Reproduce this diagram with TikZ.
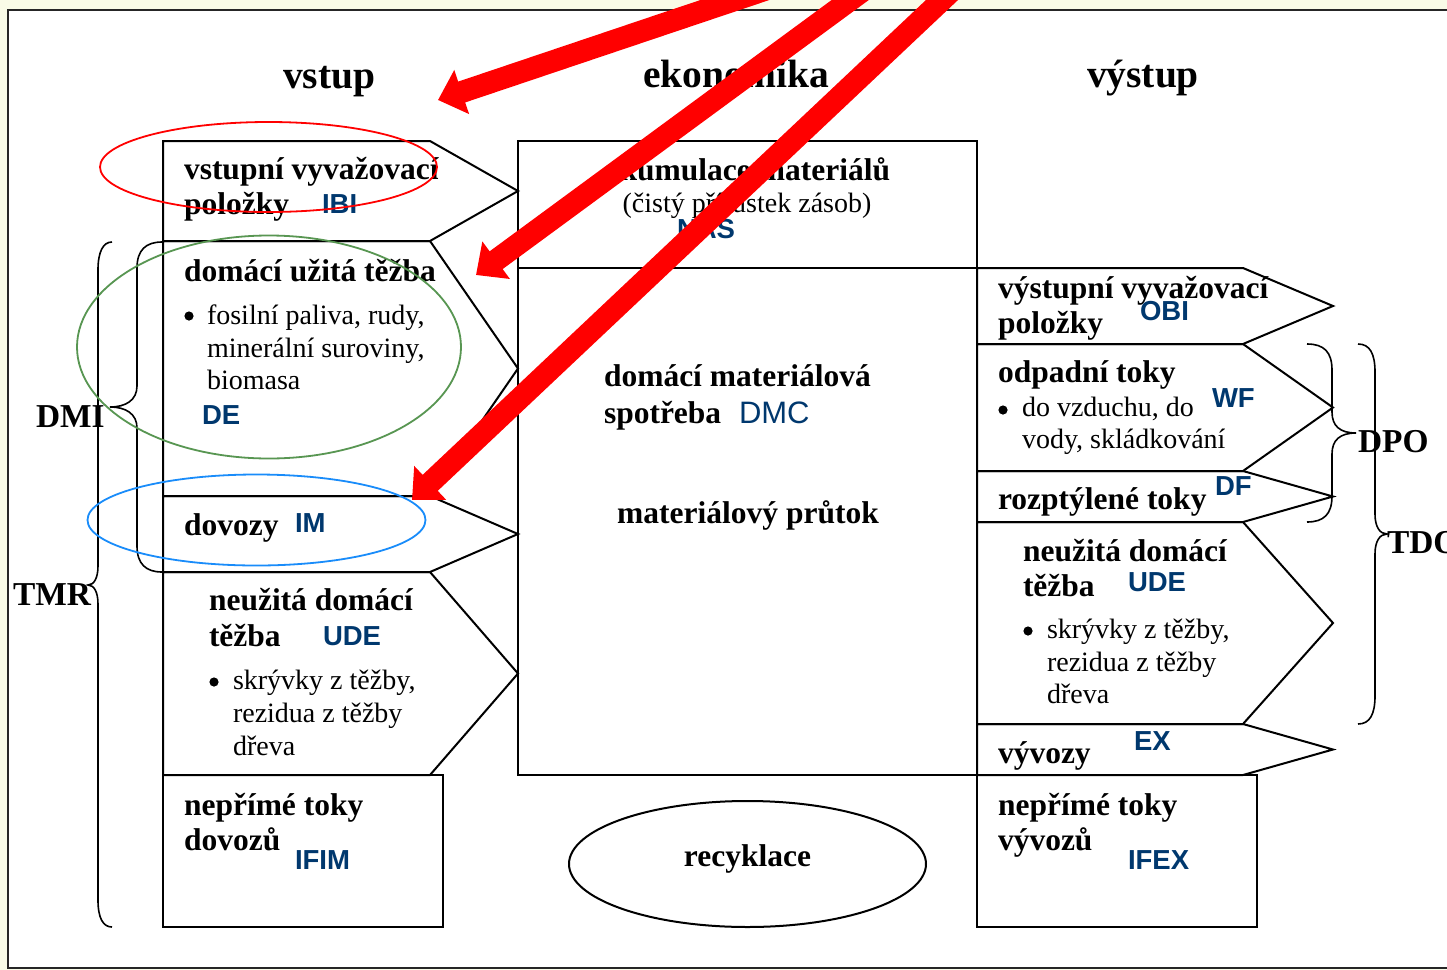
\documentclass[tikz,border=0pt]{standalone}
\usepackage{fontspec}
\setmainfont{Liberation Serif}
\setsansfont{Liberation Sans}
\usetikzlibrary{arrows.meta,shapes.geometric}
\definecolor{cream}{RGB}{249,251,231}
\definecolor{codeblue}{RGB}{0,56,110}
\definecolor{ringgreen}{RGB}{88,150,82}
\definecolor{ringblue}{RGB}{25,140,250}

\tikzset{
  txt/.style={anchor=base west, inner sep=0pt, outer sep=0pt},
  head/.style={txt, font=\fontsize{19.75}{24}\selectfont\bfseries},
  boldtxt/.style={txt, font=\fontsize{15.75}{19}\selectfont\bfseries},
  plaintxt/.style={txt, font=\fontsize{14}{17}\selectfont},
  code/.style={txt, font=\fontsize{13.75}{16}\selectfont\sffamily\bfseries, text=codeblue},
  codeplain/.style={txt, font=\fontsize{15.5}{18}\selectfont\sffamily, text=codeblue},
  agg/.style={txt, font=\fontsize{16.7}{20}\selectfont\bfseries},
  dot/.style={circle, fill=black, inner sep=0pt, minimum size=4.6pt},
  flowbox/.style={draw=black, line width=1pt, line join=miter},
  brace/.style={draw=black, line width=0.8pt},
  ring/.style={line width=0.9pt},
  hint/.style={draw=red, line width=11pt, -{Triangle[length=12.5pt,width=22.5pt]}},
}

\begin{document}
\begin{tikzpicture}[x=0.5pt,y=-0.5pt]
\useasboundingbox (0,0) rectangle (1447,970);
\clip (0,0) rectangle (1447,970);

% page and frame
\fill[cream] (0,0) rectangle (1447,970);
\filldraw[fill=white, draw=black!85, line width=1.2pt] (8,10) rectangle (1480,968);

% input side: pointed flow boxes
\foreach \t/\b in {141/241, 241/496, 496/572, 572/775}
  \draw[flowbox] (163,\t) -- (430,\t) -- (518,{(\t+\b)/2}) -- (430,\b) -- (163,\b) -- cycle;
\draw[flowbox] (163,775) rectangle (443,927);

% economy boxes
\draw[flowbox] (518,141) rectangle (977,268);
\draw[flowbox] (518,268) rectangle (977,775);
\node[draw=black, line width=1pt, ellipse, minimum width=178.5pt, minimum height=63pt, inner sep=0pt] (recyc) at (747.5,864) {};

% output side: pointed flow boxes
\foreach \t/\b in {268/344, 344/471, 471/522, 522/724, 724/775}
  \draw[flowbox] (977,\t) -- (1243,\t) -- (1333,{(\t+\b)/2}) -- (1243,\b) -- (977,\b) -- cycle;
\draw[flowbox] (977,775) rectangle (1257,927);

% column headings
\node[head] (hin)  at (283,88)  {vstup};
\node[head] (heco) at (643,87)  {ekonomika};
\node[head] (hout) at (1087,87) {výstup};

% input texts
\node[boldtxt] (ibi1) at (184,179) {vstupní vyvažovací};
\node[boldtxt] (ibi2) at (184,214) {položky};
\node[code]    (ibi)  at (322,213) {IBI};

\node[boldtxt]  (de1) at (184,281) {domácí užitá těžba};
\node[dot]      (deb) at (189,316) {};
\node[plaintxt] (de2) at (207,324) {fosilní paliva, rudy,};
\node[plaintxt] (de3) at (207,357) {minerální suroviny,};
\node[plaintxt] (de4) at (207,389) {biomasa};
\node[code]     (de)  at (202,424) {DE};

\node[boldtxt] (im1) at (184,535) {dovozy};
\node[code]    (im)  at (295,532) {IM};

\node[boldtxt]  (ude1) at (209,610) {neužitá domácí};
\node[boldtxt]  (ude2) at (209,646) {těžba};
\node[code]     (ude)  at (323,645) {UDE};
\node[dot]      (udeb) at (214,682) {};
\node[plaintxt] (ude3) at (233,689) {skrývky z těžby,};
\node[plaintxt] (ude4) at (233,722) {rezidua z těžby};
\node[plaintxt] (ude5) at (233,755) {dřeva};

\node[boldtxt] (ifim1) at (184,815) {nepřímé toky};
\node[boldtxt] (ifim2) at (184,850) {dovozů};
\node[code]    (ifim)  at (295,869) {IFIM};

% economy texts
\node[boldtxt, anchor=base] (nas1) at (747,180) {akumulace materiálů};
\node[plaintxt, anchor=base] (nas2) at (747,212) {(čistý přírůstek zásob)};
\node[code]     (nas)  at (677,238) {NAS};

\node[boldtxt]   (dmc1) at (604,386) {domácí materiálová};
\node[boldtxt]   (dmc2) at (604,423) {spotřeba};
\node[codeplain] (dmc)  at (739,423) {DMC};
\node[boldtxt, anchor=base] (thru) at (748,523) {materiálový průtok};
\node[boldtxt, anchor=base] (rec)  at (747.5,866) {recyklace};

% output texts
\node[boldtxt] (obi1) at (998,298) {výstupní vyvažovací};
\node[boldtxt] (obi2) at (998,333) {položky};
\node[code]    (obi)  at (1140,320) {OBI};

\node[boldtxt]  (wf1) at (998,382) {odpadní toky};
\node[dot]      (wfb) at (1003,410) {};
\node[plaintxt] (wf2) at (1022,416) {do vzduchu, do};
\node[plaintxt] (wf3) at (1022,448) {vody, skládkování};
\node[code]     (wf)  at (1212,407) {WF};

\node[boldtxt] (df1) at (998,509) {rozptýlené toky};
\node[code]    (df)  at (1215,495) {DF};

\node[boldtxt]  (oude1) at (1023,561) {neužitá domácí};
\node[boldtxt]  (oude2) at (1023,596) {těžba};
\node[code]     (oude)  at (1128,591) {UDE};
\node[dot]      (oudeb) at (1028,631) {};
\node[plaintxt] (oude3) at (1047,638) {skrývky z těžby,};
\node[plaintxt] (oude4) at (1047,671) {rezidua z těžby};
\node[plaintxt] (oude5) at (1047,703) {dřeva};

\node[boldtxt] (ex1) at (998,763) {vývozy};
\node[code]    (ex)  at (1134,750) {EX};

\node[boldtxt] (ifex1) at (998,815) {nepřímé toky};
\node[boldtxt] (ifex2) at (998,850) {vývozů};
\node[code]    (ifex)  at (1128,869) {IFEX};

% aggregate indicator labels
\node[agg] (dmi) at (36,427)   {DMI};
\node[agg] (tmr) at (13,605)   {TMR};
\node[agg] (dpo) at (1358,452) {DPO};
\node[agg] (tdo) at (1387,553) {TDO};

% braces
\draw[brace] (162,242) .. controls (146,242) and (137,250) .. (137,268) -- (137,386)
  .. controls (137,400) and (126,407) .. (110,407)
  .. controls (126,407) and (137,414) .. (137,428) -- (137,546)
  .. controls (137,564) and (146,572) .. (162,572);
\draw[brace] (112,242) .. controls (103,242) and (98,252) .. (98,270) -- (98,566)
  .. controls (98,578) and (94,585) .. (88,585)
  .. controls (94,585) and (98,592) .. (98,604) -- (98,900)
  .. controls (98,918) and (103,927) .. (112,927);
\draw[brace] (1307,344) .. controls (1324,344) and (1332,352) .. (1332,370) -- (1332,412)
  .. controls (1332,426) and (1340,433) .. (1356,433)
  .. controls (1340,433) and (1332,440) .. (1332,454) -- (1332,496)
  .. controls (1332,514) and (1324,522) .. (1307,522);
\draw[brace] (1358,344) .. controls (1370,344) and (1375,354) .. (1375,372) -- (1375,514)
  .. controls (1375,527) and (1380,534) .. (1387,534)
  .. controls (1380,534) and (1375,541) .. (1375,554) -- (1375,696)
  .. controls (1375,714) and (1370,724) .. (1358,724);

% highlight rings
\draw[ring, red]        (268.5,167) ellipse [x radius=84.25pt, y radius=22.5pt];
\draw[ring, ringgreen]  (269,347)   ellipse [x radius=96pt, y radius=55.75pt];
\draw[ring, ringblue]   (256.5,520) ellipse [x radius=84.5pt, y radius=22.75pt];

% pointer arrows
\coordinate (p1s) at (824,-30);
\coordinate (p1e) at (438,100);
\coordinate (p2s) at (906,-41);
\coordinate (p2e) at (476,275);
\coordinate (p3s) at (995,-50);
\coordinate (p3e) at (412,500);
\draw[hint] (p1s) -- (p1e);
\draw[hint] (p2s) -- (p2e);
\draw[hint] (p3s) -- (p3e);
\end{tikzpicture}
\end{document}
